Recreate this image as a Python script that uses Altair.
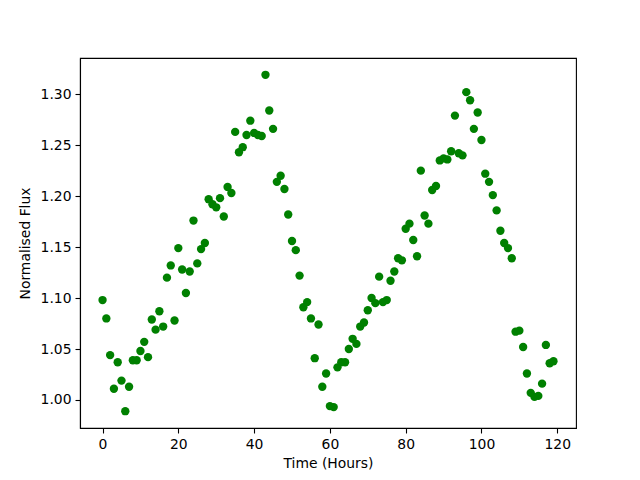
import altair as alt
import pandas as pd

hours = list(range(120))
flux = [
    1.098, 1.080, 1.044, 1.011, 1.037, 1.019, 0.989, 1.013, 1.039, 1.039,
    1.048, 1.057, 1.042, 1.079, 1.069, 1.087, 1.072, 1.120, 1.132, 1.078,
    1.149, 1.128, 1.105, 1.126, 1.176, 1.134, 1.148, 1.154, 1.197, 1.192,
    1.189, 1.198, 1.180, 1.209, 1.203, 1.263, 1.243, 1.248, 1.260, 1.274,
    1.262, 1.260, 1.259, 1.319, 1.284, 1.266, 1.214, 1.220, 1.207, 1.182,
    1.156, 1.147, 1.122, 1.091, 1.096, 1.080, 1.041, 1.074, 1.013, 1.026,
    0.994, 0.993, 1.032, 1.037, 1.037, 1.050, 1.060, 1.055, 1.072, 1.076,
    1.088, 1.100, 1.095, 1.121, 1.096, 1.098, 1.117, 1.126, 1.139, 1.137,
    1.168, 1.173, 1.157, 1.141, 1.225, 1.181, 1.173, 1.206, 1.210, 1.235,
    1.237, 1.236, 1.244, 1.279, 1.242, 1.240, 1.302, 1.294, 1.266, 1.282,
    1.255, 1.222, 1.214, 1.201, 1.186, 1.166, 1.154, 1.149, 1.139, 1.067,
    1.068, 1.052, 1.026, 1.007, 1.003, 1.004, 1.016, 1.054, 1.036, 1.038,
]
x_ticks = [0, 20, 40, 60, 80, 100, 120]
y_ticks = [1.00, 1.05, 1.10, 1.15, 1.20, 1.25, 1.30]

df = pd.DataFrame({"Time": hours, "Flux": flux})

axis_common = dict(
    domainColor="black", domainWidth=1.1, tickColor="black", tickWidth=1.1,
    tickSize=5, labelColor="black", titleColor="black", labelFont="DejaVu Sans",
    titleFont="DejaVu Sans", labelFontSize=13.9, titleFontSize=13.9,
    titleFontWeight="normal", grid=False, labelPadding=4,
)

chart = alt.Chart(df).mark_circle(size=70, color="#008000", opacity=1).encode(
    x=alt.X("Time:Q", scale=alt.Scale(domain=[-5.95, 124.95], nice=False, zero=False),
            axis=alt.Axis(values=x_ticks, title="Time (Hours)", titlePadding=6, **axis_common)),
    y=alt.Y("Flux:Q", scale=alt.Scale(domain=[0.9725, 1.3355], nice=False, zero=False),
            axis=alt.Axis(values=y_ticks, format=".2f", title="Normalised Flux", titlePadding=8, **axis_common)),
).properties(
    width=496, height=370,
    autosize=alt.AutoSizeParams(type="none"),
    padding={"left": 72, "top": 50, "right": 56, "bottom": 45},
).configure_view(stroke="black", strokeWidth=1.1)

chart.save("out.html", embed_options={"renderer": "svg", "actions": False})
